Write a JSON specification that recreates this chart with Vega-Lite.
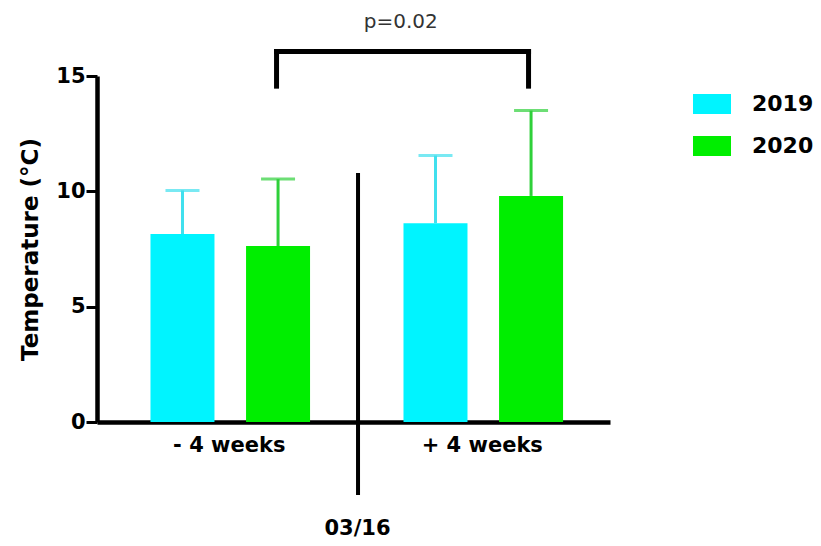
{
  "$schema": "https://vega.github.io/schema/vega-lite/v6.json",
  "width": 513,
  "height": 346,
  "autosize": {"type": "none"},
  "padding": {"left": 97, "top": 76, "right": 211, "bottom": 124},
  "background": "white",
  "config": {
    "view": {"stroke": null},
    "font": "DejaVu Sans"
  },
  "datasets": {
    "bars": [
      {"period": "- 4 weeks", "year": "2019", "pos": 1.60, "mean": 8.15, "upper": 10.04},
      {"period": "- 4 weeks", "year": "2020", "pos": 3.50, "mean": 7.63, "upper": 10.53},
      {"period": "+ 4 weeks", "year": "2019", "pos": 6.63, "mean": 8.62, "upper": 11.55},
      {"period": "+ 4 weeks", "year": "2020", "pos": 8.53, "mean": 9.80, "upper": 13.50}
    ],
    "bracket": [
      {"x": 3.47, "x2": 8.48, "y": 16.06, "y2": 16.06},
      {"x": 3.47, "x2": 3.47, "y": 16.06, "y2": 14.56},
      {"x": 8.48, "x2": 8.48, "y": 16.06, "y2": 14.56}
    ],
    "divider": [
      {"x": 5.09, "y": 10.79, "y2": -3.16}
    ],
    "groupLabels": [
      {"label": "- 4 weeks", "x": 2.53, "y": -1.04},
      {"label": "+ 4 weeks", "x": 7.56, "y": -1.04},
      {"label": "03/16", "x": 5.08, "y": -4.64}
    ],
    "pLabel": [
      {"label": "p=0.02", "x": 5.94, "y": 17.34}
    ]
  },
  "layer": [
    {
      "data": {"name": "bars"},
      "transform": [{"filter": "datum.year == '2019'"}],
      "mark": {"type": "rule", "strokeWidth": 3, "color": "#40e0ee"},
      "encoding": {
        "x": {"field": "pos", "type": "quantitative", "scale": {"domain": [0, 10], "nice": false, "zero": false},
              "axis": {"domain": true, "domainColor": "black", "domainWidth": 4.5, "ticks": false, "labels": false, "grid": false, "title": null}},
        "y": {"field": "mean", "type": "quantitative"},
        "y2": {"field": "upper"}
      }
    },
    {
      "data": {"name": "bars"},
      "transform": [{"filter": "datum.year == '2020'"}],
      "mark": {"type": "rule", "strokeWidth": 3, "color": "#2fd03a"},
      "encoding": {
        "x": {"field": "pos", "type": "quantitative"},
        "y": {"field": "mean", "type": "quantitative"},
        "y2": {"field": "upper"}
      }
    },
    {
      "data": {"name": "bars"},
      "transform": [{"filter": "datum.year == '2019'"}],
      "mark": {"type": "tick", "orient": "horizontal", "size": 34, "thickness": 3, "color": "#40e0ee"},
      "encoding": {
        "x": {"field": "pos", "type": "quantitative"},
        "y": {"field": "upper", "type": "quantitative"}
      }
    },
    {
      "data": {"name": "bars"},
      "transform": [{"filter": "datum.year == '2020'"}],
      "mark": {"type": "tick", "orient": "horizontal", "size": 34, "thickness": 3, "color": "#2fd03a"},
      "encoding": {
        "x": {"field": "pos", "type": "quantitative"},
        "y": {"field": "upper", "type": "quantitative"}
      }
    },
    {
      "data": {"name": "bars"},
      "mark": {"type": "bar", "size": 64},
      "encoding": {
        "x": {"field": "pos", "type": "quantitative"},
        "y": {"field": "mean", "type": "quantitative",
              "scale": {"domain": [0, 15], "nice": false},
              "axis": {"values": [0, 5, 10, 15], "grid": false, "domainColor": "black", "domainWidth": 4.5,
                       "tickColor": "black", "tickWidth": 3, "tickSize": 11,
                       "labelFont": "DejaVu Sans", "labelFontWeight": "bold", "labelFontSize": 21, "labelColor": "black", "labelPadding": 1,
                       "title": "Temperature (°C)", "titleFont": "DejaVu Sans", "titleFontWeight": "bold", "titleFontSize": 23, "titleColor": "black", "titlePadding": 13}},
        "color": {"field": "year", "type": "nominal", "title": null,
                  "scale": {"domain": ["2019", "2020"], "range": ["#00f4ff", "#00ee00"]},
                  "legend": {"orient": "none", "legendX": 596, "legendY": 9, "padding": 0,
                             "symbolType": "M-1,-0.526H1V0.526H-1Z", "symbolSize": 1444, "symbolStrokeWidth": 0,
                             "labelFont": "DejaVu Sans", "labelFontWeight": "bold", "labelFontSize": 22, "labelColor": "black",
                             "labelOffset": 21, "rowPadding": 12}}
      }
    },
    {
      "data": {"name": "bracket"},
      "mark": {"type": "rule", "strokeWidth": 5, "color": "black", "strokeCap": "square"},
      "encoding": {
        "x": {"field": "x", "type": "quantitative"},
        "x2": {"field": "x2"},
        "y": {"field": "y", "type": "quantitative"},
        "y2": {"field": "y2"}
      }
    },
    {
      "data": {"name": "divider"},
      "mark": {"type": "rule", "strokeWidth": 4, "color": "black"},
      "encoding": {
        "x": {"field": "x", "type": "quantitative"},
        "y": {"field": "y", "type": "quantitative"},
        "y2": {"field": "y2"}
      }
    },
    {
      "data": {"name": "groupLabels"},
      "mark": {"type": "text", "font": "DejaVu Sans", "fontWeight": "bold", "fontSize": 21, "color": "black", "baseline": "middle", "align": "center"},
      "encoding": {
        "x": {"field": "x", "type": "quantitative"},
        "y": {"field": "y", "type": "quantitative"},
        "text": {"field": "label"}
      }
    },
    {
      "data": {"name": "pLabel"},
      "mark": {"type": "text", "font": "DejaVu Sans", "fontSize": 20, "color": "#333333", "baseline": "middle", "align": "center"},
      "encoding": {
        "x": {"field": "x", "type": "quantitative"},
        "y": {"field": "y", "type": "quantitative"},
        "text": {"field": "label"}
      }
    }
  ]
}
